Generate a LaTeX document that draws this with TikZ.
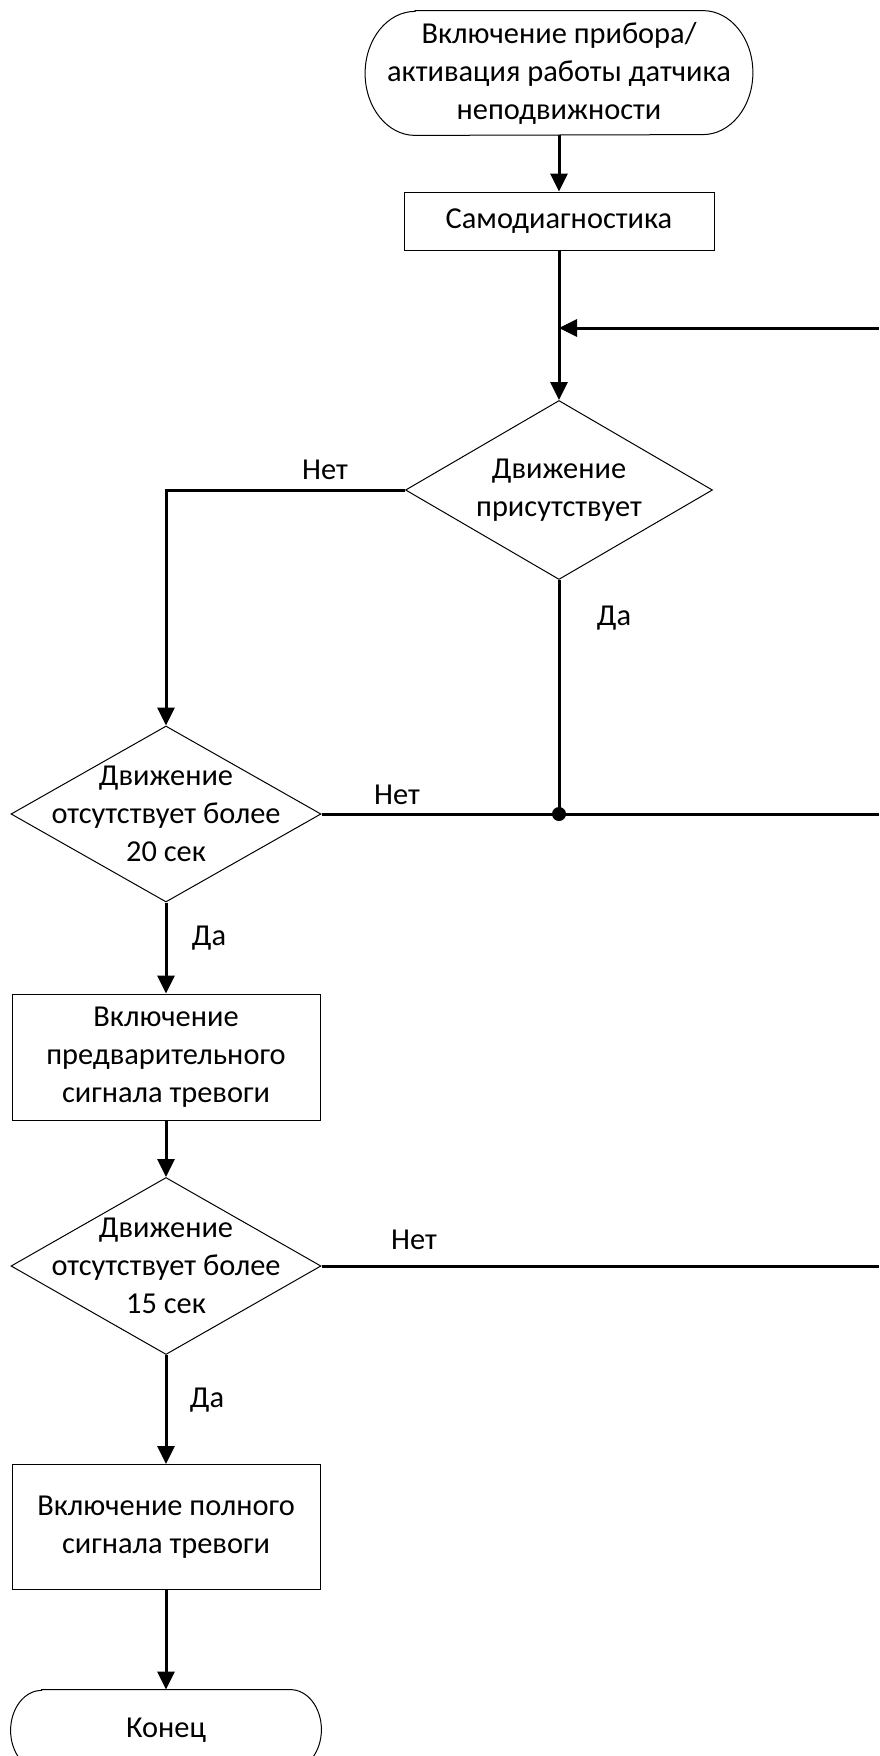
\documentclass[tikz,border=0pt]{standalone}
\usepackage{fontspec}
\setmainfont{Carlito}
\usetikzlibrary{shapes.geometric,arrows.meta}
\begin{document}
\begin{tikzpicture}[x=0.5pt,y=0.5pt,
  every node/.style={font=\fontsize{15.2}{19}\selectfont},
  box/.style={draw, line width=0.5pt, align=center, inner sep=0pt},
  dia/.style={draw, diamond, line width=0.5pt, inner sep=0pt},
  txt/.style={align=center, inner sep=0pt},
  term/.style={align=center, inner sep=0pt},
  conn/.style={line width=1.5pt},
  arr/.style={conn, -{Triangle[length=9pt,width=8.5pt]}},
  lbl/.style={inner sep=0pt},
  outl/.style={line width=0.5pt}]
\useasboundingbox (0,0) rectangle (879,-1756);
% nodes
\node[term, minimum width=193.5pt, minimum height=62pt] (s) at (559,-73) {Включение прибора/\\активация работы датчика\\неподвижности};
\draw[outl] ([xshift=25pt]s.north west) -- ([xshift=-25pt]s.north east)
  arc[start angle=90, end angle=-90, x radius=25pt, y radius=31pt]
  -- ([xshift=25pt]s.south west)
  arc[start angle=270, end angle=90, x radius=25pt, y radius=31pt] -- cycle;
\node[box, minimum width=155pt, minimum height=29pt] (sd) at (559,-221) {Самодиагностика};
\coordinate (j1) at (559,-328);
\coordinate (r1) at (879,-328);
\node[dia, minimum width=153.5pt, minimum height=89.5pt] (d1) at (559,-490) {};
\node[txt] (t1) at (d1.center) {Движение\\присутствует};
\node[dia, minimum width=155pt, minimum height=88pt] (d2) at (166,-814) {};
\node[txt] (t2) at (d2.center) {Движение\\отсутствует более\\20 сек};
\coordinate (c1) at (166,-490);
\coordinate (j2) at (d1.south |- d2.east);
\coordinate (r2) at (879,-814);
\node[box, minimum width=154pt, minimum height=63pt] (b3) at (166,-1057) {Включение\\предварительного\\сигнала тревоги};
\node[dia, minimum width=155pt, minimum height=88.5pt] (d3) at (166,-1266) {};
\node[txt] (t3) at (d3.center) {Движение\\отсутствует более\\15 сек};
\coordinate (r3) at (879,-1266);
\node[box, minimum width=154pt, minimum height=62.5pt] (b4) at (166,-1527) {Включение полного\\сигнала тревоги};
\node[term, minimum width=155pt, minimum height=40pt] (e) at (166,-1730) {Конец};
\draw[outl] ([xshift=15.5pt]e.north west) -- ([xshift=-15.5pt]e.north east)
  arc[start angle=90, end angle=-90, x radius=15.5pt, y radius=20pt]
  -- ([xshift=15.5pt]e.south west)
  arc[start angle=270, end angle=90, x radius=15.5pt, y radius=20pt] -- cycle;
% labels
\node[lbl] (l1) at (325,-470) {Нет};
\node[lbl] (l2) at (614,-618) {Да};
\node[lbl] (l3) at (397,-795) {Нет};
\node[lbl] (l4) at (209,-938) {Да};
\node[lbl] (l5) at (414,-1240) {Нет};
\node[lbl] (l6) at (207,-1400) {Да};
% connectors
\draw[arr] (s.south) -- (sd.north);
\draw[conn] (sd.south) -- (j1);
\draw[arr] (j1) -- (d1.north);
\draw[arr] (r1) -- (j1);
\draw[arr] (d1.west) -- (c1) -- (d2.north);
\draw[conn] (d1.south) -- (j2);
\draw[conn] (d2.east) -- (r2);
\fill (j2) circle[radius=3.5pt];
\draw[arr] (d2.south) -- (b3.north);
\draw[arr] (b3.south) -- (d3.north);
\draw[conn] (d3.east) -- (r3);
\draw[arr] (d3.south) -- (b4.north);
\draw[arr] (b4.south) -- (e.north);
\end{tikzpicture}
\end{document}
